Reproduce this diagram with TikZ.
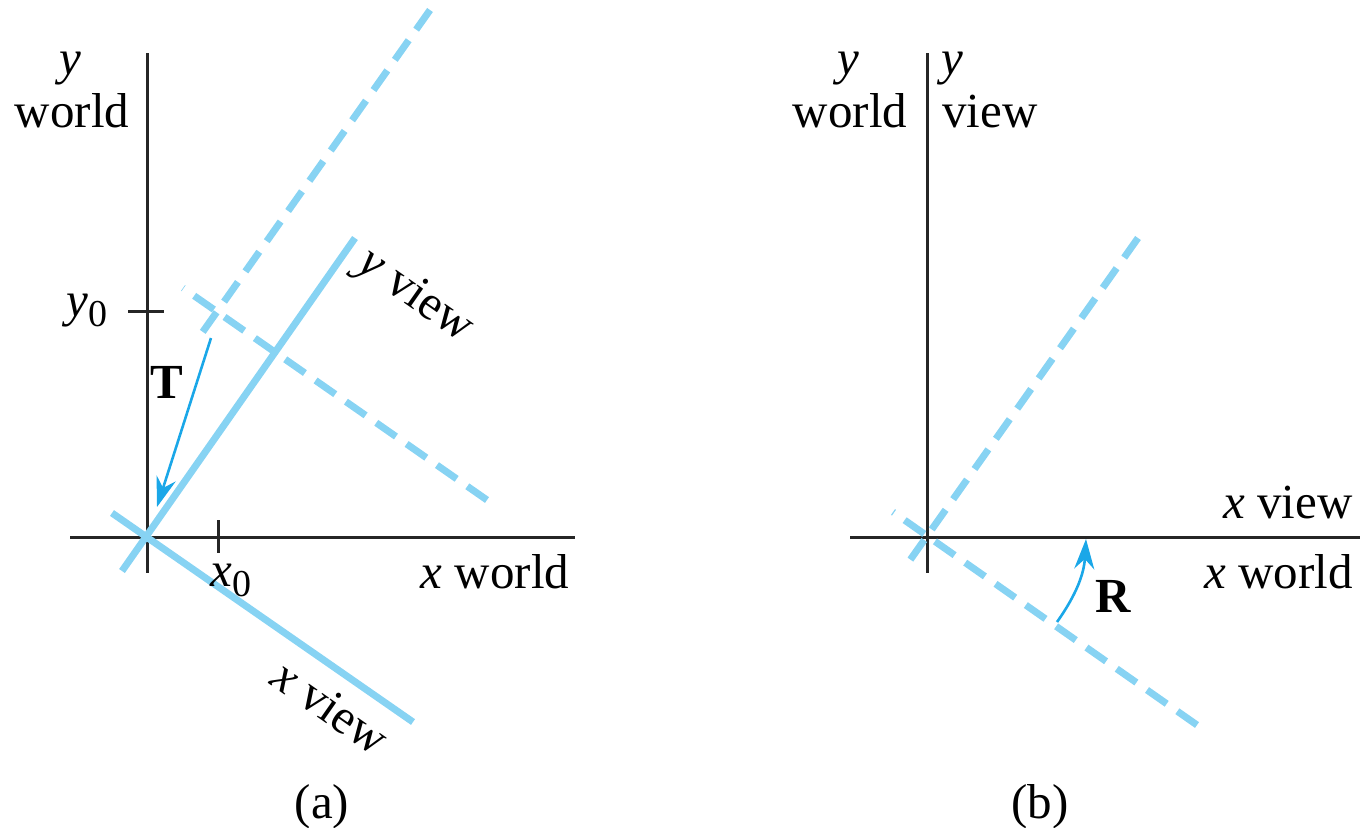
\documentclass[tikz,border=0pt]{standalone}
\usepackage{fontspec}
\setmainfont{Liberation Serif}
\usetikzlibrary{arrows.meta}
\definecolor{lblue}{HTML}{87D3F3}
\definecolor{dblue}{HTML}{1AA7E8}
\newcommand\lbsub[2]{\textit{#1}\raisebox{-0.45ex}{\fontsize{19}{19}\selectfont #2}}
\tikzset{
  axis/.style={line width=1.5pt,black!85},
  viewsolid/.style={line width=3.5pt,lblue},
  viewdash/.style={line width=3.5pt,lblue,dash pattern=on 12pt off 6.5pt},
  movearrow/.style={line width=1.3pt,dblue,-{Stealth[length=15pt,width=10pt,inset=5pt]}},
  lbl/.style={font=\fontsize{24.5}{29}\selectfont,inner sep=0pt,anchor=base},
}
\begin{document}
\begin{tikzpicture}[x=0.5pt,y=-0.5pt]
\useasboundingbox (0,0) rectangle (1360,827);
% ---------- panel (a)
\coordinate (aO) at (147,537);
\coordinate (aYt) at (147,53);
\coordinate (aYb) at (147,573);
\coordinate (aXl) at (70,537);
\coordinate (aXr) at (575,537);
\coordinate (y0l) at (128,311);
\coordinate (y0r) at (164,311);
\coordinate (x0t) at (218,520);
\coordinate (x0b) at (218,553);
\coordinate (yvA) at (122,571);
\coordinate (yvB) at (355,238);
\coordinate (xvA) at (112,513);
\coordinate (xvB) at (413,722);
\coordinate (dyA) at (197,340);
\coordinate (dyB) at (430,10);
\coordinate (dxA) at (183,288);
\coordinate (dxB) at (487,500);
\coordinate (Ts) at (211,338);
\coordinate (Te) at (157,507);

\draw[axis] (aYt) -- (aYb);
\draw[axis] (aXl) -- (aXr);
\draw[axis] (y0l) -- (y0r);
\draw[axis] (x0t) -- (x0b);
\draw[viewdash] (dyB) -- (dyA);
\draw[viewdash] (dxB) -- (dxA);
\draw[viewsolid] (yvA) -- (yvB);
\draw[viewsolid] (xvA) -- (xvB);
\draw[movearrow] (Ts) -- (Te);

\node[lbl] (ayw1) at (70,74) {\textit{y}};
\node[lbl] (ayw2) at (72,127) {world};
\node[lbl,anchor=base east] (ay0) at (108,316) {\lbsub{y}{0}};
\node[lbl,anchor=base west] (ax0) at (210,586) {\lbsub{x}{0}};
\node[lbl] (axw) at (495,588) {\textit{x} world};
\node[lbl,anchor=center,rotate=-35] (ayv) at (415,297) {\textit{y} view};
\node[lbl,anchor=center,rotate=-35] (axv) at (331,707) {\textit{x} view};
\node[lbl] (aT) at (167,398) {\textbf{T}};
\node[lbl] (acap) at (322,818) {(a)};

% ---------- panel (b)
\coordinate (bO) at (927,537);
\coordinate (bYt) at (927,53);
\coordinate (bYb) at (927,573);
\coordinate (bXl) at (850,537);
\coordinate (bXr) at (1360,537);
\coordinate (bdyA) at (903,570);
\coordinate (bdyB) at (1138,238);
\coordinate (bdxA) at (893,512);
\coordinate (bdxB) at (1197,725);
\coordinate (Rs) at (1057,622);
\coordinate (Re) at (1086,539);

\draw[axis] (bYt) -- (bYb);
\draw[axis] (bXl) -- (bXr);
\draw[viewdash] (bdyB) -- (bdyA);
\draw[viewdash] (bdxB) -- (bdxA);
\draw[movearrow] (Rs) to[bend right=16] (Re);

\node[lbl] (byw1) at (848,74) {\textit{y}};
\node[lbl] (byw2) at (850,127) {world};
\node[lbl] (byv1) at (952,74) {\textit{y}};
\node[lbl] (byv2) at (990,127) {view};
\node[lbl,anchor=base east] (bxv) at (1353,518) {\textit{x} view};
\node[lbl,anchor=base east] (bxw) at (1353,588) {\textit{x} world};
\node[lbl] (bR) at (1113,612) {\textbf{R}};
\node[lbl] (bcap) at (1040,818) {(b)};
\end{tikzpicture}
\end{document}
